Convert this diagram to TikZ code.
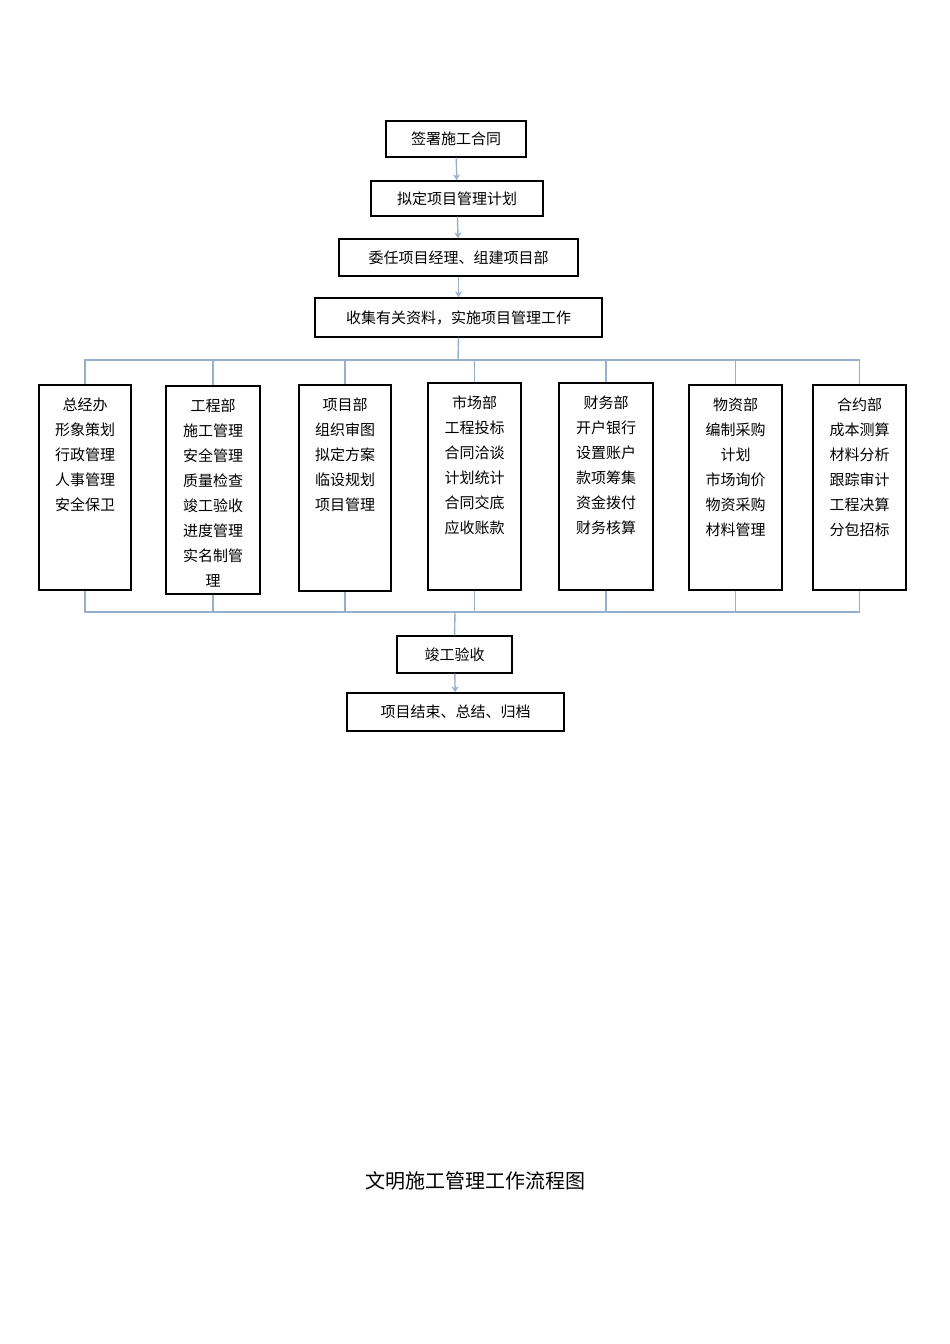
\documentclass[tikz,border=0pt]{standalone}
\usepackage{fontspec}
\setmainfont{Noto Sans CJK SC}
\usetikzlibrary{arrows.meta}
\definecolor{lc}{RGB}{150,175,205}
\begin{document}
\begin{tikzpicture}[x=1pt,y=-1pt,
  box/.style={draw=black,line width=1.3pt,fill=white,inner sep=0pt,font=\fontsize{15}{25}\selectfont,align=center},
  ln/.style={draw=lc,line width=1.4pt},
  ar/.style={ln,-{Stealth[length=6pt,width=7pt,open]}}]
\useasboundingbox (0,0) rectangle (950,1344);
\fill[white] (0,0) rectangle (950,1344);
\node[box,minimum width=140pt,minimum height=36pt] (a) at (456,139) {签署施工合同};
\node[box,minimum width=172pt,minimum height=35pt] (b) at (457,198.5) {拟定项目管理计划};
\node[box,minimum width=239pt,minimum height=37pt] (c) at (458.5,257.5) {委任项目经理、组建项目部};
\node[box,minimum width=287pt,minimum height=39pt] (d) at (458.5,317.5) {收集有关资料，实施项目管理工作};
\draw[ar] (a) -- (b);
\draw[ar] (b) -- (c);
\draw[ar] (c) -- (d);
\coordinate (top) at (458,360);
\coordinate (bot) at (455,612);
\draw[ln] (d.south) -- (top);
\draw[ln] (84,360) -- (860,360);
\draw[ln] (84,612) -- (860,612);
\foreach \n/\xa/\xb/\ya/\yb/\t in {
 p1/39/131/385/590/{总经办\\形象策划\\行政管理\\人事管理\\安全保卫},
 p2/166/260/386/594/{工程部\\施工管理\\安全管理\\质量检查\\竣工验收\\进度管理\\实名制管\\理},
 p3/299/391/385/591/{项目部\\组织审图\\拟定方案\\临设规划\\项目管理},
 p4/428/521/383/590/{市场部\\工程投标\\合同洽谈\\计划统计\\合同交底\\应收账款},
 p5/559/653/383/590/{财务部\\开户银行\\设置账户\\款项筹集\\资金拨付\\财务核算},
 p6/689/782/385/590/{物资部\\编制采购\\计划\\市场询价\\物资采购\\材料管理},
 p7/813/906/385/590/{合约部\\成本测算\\材料分析\\跟踪审计\\工程决算\\分包招标}}{
  \draw[ln] ({(\xa+\xb)/2},360) -- ({(\xa+\xb)/2},\ya);
  \draw[ln] ({(\xa+\xb)/2},\yb) -- ({(\xa+\xb)/2},612);
  \draw[black,line width=1.3pt,fill=white] (\xa,\ya) rectangle (\xb,\yb);
  \node[box,draw=none,fill=none,anchor=north] (\n) at ({(\xa+\xb)/2},\ya+12) {\t};
}
\node[box,minimum width=115pt,minimum height=37pt] (e) at (454.5,654.5) {竣工验收};
\node[box,minimum width=217pt,minimum height=38pt] (f) at (455.5,712) {项目结束、总结、归档};
\draw[ln] (bot) -- (e.north);
\draw[ar] (e) -- (f);
\node[font=\fontsize{20}{24}\selectfont] (t) at (475,1181) {文明施工管理工作流程图};
\end{tikzpicture}
\end{document}
